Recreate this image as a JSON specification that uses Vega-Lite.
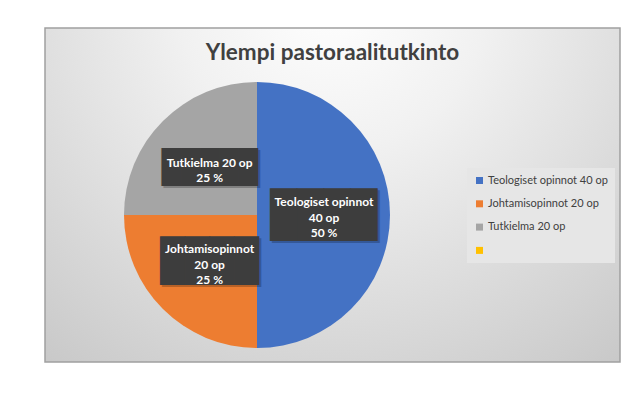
{
  "$schema": "https://vega.github.io/schema/vega-lite/v6.json",
  "width": 575,
  "height": 334,
  "autosize": {"type": "none"},
  "padding": {"left": 45, "top": 28, "right": 23, "bottom": 34},
  "background": "white",
  "title": {"text": "Ylempi pastoraalitutkinto", "font": "Lato", "fontSize": 22.5, "fontWeight": "bold", "color": "#404040", "anchor": "middle", "offset": -37},
  "config": {"view": {"stroke": null}},
  "data": {"values": [
    {"cat": "Teologiset opinnot 40 op", "value": 40, "n": 1, "label": ["Teologiset opinnot", "40 op", "50 %"]},
    {"cat": "Johtamisopinnot 20 op", "value": 20, "n": 2, "label": ["Johtamisopinnot", "20 op", "25 %"]},
    {"cat": "Tutkielma 20 op", "value": 20, "n": 3, "label": ["Tutkielma 20 op", "25 %"]},
    {"cat": "", "value": 0, "n": 4, "label": ""}
  ]},
  "transform": [
    {"stack": "value", "groupby": [], "sort": [{"field": "n", "order": "ascending"}], "as": ["v0", "v1"]},
    {"calculate": "(datum.v0 + datum.v1) / 2", "as": "mid"}
  ],
  "layer": [
    {
      "data": {"values": [{}]},
      "mark": {"type": "rect", "stroke": "#a0a0a0", "strokeWidth": 1.5, "fill": {"gradient": "radial", "x1": 0.5, "y1": 0.15, "r1": 0, "x2": 0.5, "y2": 0.15, "r2": 0.9, "stops": [{"offset": 0, "color": "#ffffff"}, {"offset": 0.3, "color": "#f1f1f1"}, {"offset": 1, "color": "#c2c2c2"}]}},
      "encoding": {}
    },
    {
      "mark": {"type": "arc", "x": 212, "y": 187, "outerRadius": 133},
      "encoding": {
        "theta": {"field": "v0", "type": "quantitative", "stack": null, "scale": {"domain": [0, 80]}},
        "theta2": {"field": "v1"},
        "color": {"field": "cat", "type": "nominal",
          "scale": {"domain": ["Teologiset opinnot 40 op", "Johtamisopinnot 20 op", "Tutkielma 20 op", ""], "range": ["#4472C4", "#ED7D31", "#A5A5A5", "#FFC000"]},
          "legend": {"orient": "none", "legendX": 422, "legendY": 140, "title": null, "fillColor": "#e6e6e6", "padding": 7, "symbolType": "square", "symbolSize": 49, "symbolStrokeWidth": 0, "labelFont": "Lato", "labelFontSize": 11, "labelColor": "#404040", "rowPadding": 11.3, "labelOffset": 3}
        }
      }
    },
    {
      "transform": [{"filter": "datum.cat == 'Teologiset opinnot 40 op'"}],
      "mark": {"type": "text", "x": 212, "y": 187, "radius": 67, "dx": 2, "dy": 4, "text": "████", "font": "DejaVu Sans Mono", "fontSize": 44.5, "color": "#000000", "opacity": 0.22, "align": "center", "baseline": "middle"},
      "encoding": {"theta": {"field": "mid", "type": "quantitative", "scale": {"domain": [0, 80]}}}
    },
    {
      "transform": [{"filter": "datum.cat == 'Teologiset opinnot 40 op'"}],
      "mark": {"type": "text", "x": 212, "y": 187, "radius": 67, "dy": 2, "text": "████", "font": "DejaVu Sans Mono", "fontSize": 44.5, "color": "#3d3d3d", "align": "center", "baseline": "middle"},
      "encoding": {"theta": {"field": "mid", "type": "quantitative", "scale": {"domain": [0, 80]}}}
    },
    {
      "transform": [{"filter": "datum.cat == 'Johtamisopinnot 20 op'"}],
      "mark": {"type": "text", "x": 212, "y": 187, "radius": 67, "dx": 2, "dy": 3, "text": "████", "font": "DejaVu Sans Mono", "fontSize": 41, "color": "#000000", "opacity": 0.22, "align": "center", "baseline": "middle"},
      "encoding": {"theta": {"field": "mid", "type": "quantitative", "scale": {"domain": [0, 80]}}}
    },
    {
      "transform": [{"filter": "datum.cat == 'Johtamisopinnot 20 op'"}],
      "mark": {"type": "text", "x": 212, "y": 187, "radius": 67, "dy": 1, "text": "████", "font": "DejaVu Sans Mono", "fontSize": 41, "color": "#3d3d3d", "align": "center", "baseline": "middle"},
      "encoding": {"theta": {"field": "mid", "type": "quantitative", "scale": {"domain": [0, 80]}}}
    },
    {
      "transform": [{"filter": "datum.cat == 'Tutkielma 20 op'"}],
      "mark": {"type": "text", "x": 212, "y": 187, "radius": 67, "dx": 2, "dy": 2, "text": "█████", "font": "DejaVu Sans Mono", "fontSize": 32, "color": "#000000", "opacity": 0.22, "align": "center", "baseline": "middle"},
      "encoding": {"theta": {"field": "mid", "type": "quantitative", "scale": {"domain": [0, 80]}}}
    },
    {
      "transform": [{"filter": "datum.cat == 'Tutkielma 20 op'"}],
      "mark": {"type": "text", "x": 212, "y": 187, "radius": 67, "text": "█████", "font": "DejaVu Sans Mono", "fontSize": 32, "color": "#3d3d3d", "align": "center", "baseline": "middle"},
      "encoding": {"theta": {"field": "mid", "type": "quantitative", "scale": {"domain": [0, 80]}}}
    },
    {
      "transform": [{"filter": "datum.cat == 'Teologiset opinnot 40 op' || datum.cat == 'Johtamisopinnot 20 op'"}],
      "mark": {"type": "text", "x": 212, "y": 187, "radius": 67, "dy": -13, "font": "Lato", "fontSize": 12, "fontWeight": "bold", "color": "white", "align": "center", "baseline": "middle", "lineHeight": 15.5},
      "encoding": {
        "theta": {"field": "mid", "type": "quantitative", "scale": {"domain": [0, 80]}},
        "text": {"field": "label"}
      }
    },
    {
      "transform": [{"filter": "datum.cat == 'Tutkielma 20 op'"}],
      "mark": {"type": "text", "x": 212, "y": 187, "radius": 67, "dy": -5, "font": "Lato", "fontSize": 12, "fontWeight": "bold", "color": "white", "align": "center", "baseline": "middle", "lineHeight": 15.5},
      "encoding": {
        "theta": {"field": "mid", "type": "quantitative", "scale": {"domain": [0, 80]}},
        "text": {"field": "label"}
      }
    }
  ]
}
